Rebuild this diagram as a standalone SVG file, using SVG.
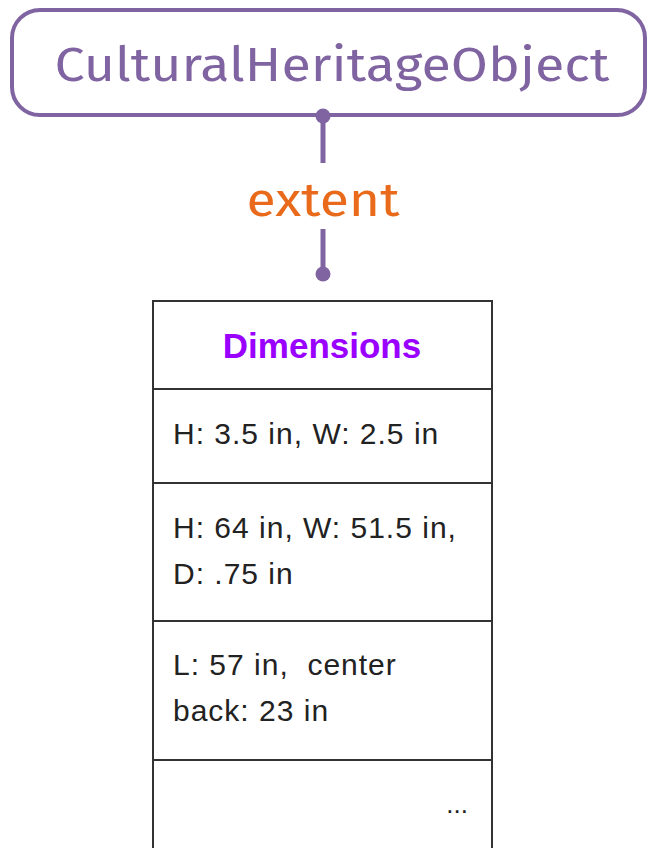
<svg xmlns="http://www.w3.org/2000/svg" width="648" height="848" viewBox="0 0 648 848">
<style>
.cls{font-family:"Fira Sans","Open Sans","Noto Sans",sans-serif;font-size:48px;fill:#8064A2}
.lbl{font-family:"Fira Sans","Open Sans","Noto Sans",sans-serif;font-size:48px;fill:#E86A1A}
.t{font-family:"Liberation Sans",Arial,sans-serif;font-size:30px;letter-spacing:1px;fill:#222}
.h{font-family:"Liberation Sans",Arial,sans-serif;font-size:35px;font-weight:bold;fill:#9900FF}
.cell{fill:none;stroke:#333;stroke-width:2}
.conn{stroke:#8064A2;stroke-width:5;fill:none}
</style>
<rect width="648" height="848" fill="#fff"/>
<g id="CulturalHeritageObject">
<rect x="12" y="10" width="633" height="105" rx="28" ry="28" fill="#fff" stroke="#8064A2" stroke-width="4"/>
<text class="cls" x="332" y="81" text-anchor="middle" textLength="555" lengthAdjust="spacingAndGlyphs">CulturalHeritageObject</text>
</g>
<g id="connectors">
<line class="conn" x1="323" y1="116" x2="323" y2="163"/>
<line class="conn" x1="323" y1="229" x2="323" y2="272"/>
<circle cx="323" cy="116" r="7.5" fill="#8064A2"/>
<circle cx="323" cy="274" r="7.5" fill="#8064A2"/>
<text class="lbl" x="323" y="216" text-anchor="middle" textLength="153" lengthAdjust="spacingAndGlyphs">extent</text>
</g>
<g id="Dimensions">
<path class="cell" d="M153 848 V301 H492 V848"/>
<line class="cell" x1="153" y1="389" x2="492" y2="389"/>
<line class="cell" x1="153" y1="483" x2="492" y2="483"/>
<line class="cell" x1="153" y1="621" x2="492" y2="621"/>
<line class="cell" x1="153" y1="760" x2="492" y2="760"/>
<text class="h" x="322" y="358" text-anchor="middle">Dimensions</text>
<text class="t" x="173" y="444">H: 3.5 in, W: 2.5 in</text>
<text class="t" x="173" y="538">H: 64 in, W: 51.5 in,</text>
<text class="t" x="173" y="584">D: .75 in</text>
<text class="t" x="173" y="675" xml:space="preserve">L: 57 in,  center</text>
<text class="t" x="173" y="721">back: 23 in</text>
<text class="t" x="468" y="813" text-anchor="end" style="letter-spacing:0;font-size:26px">...</text>
</g>
</svg>
